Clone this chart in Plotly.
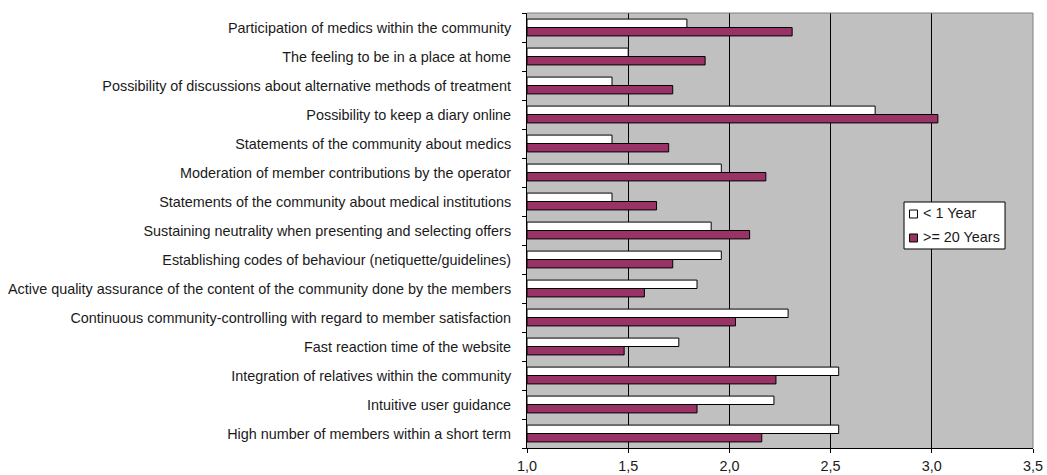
import plotly.graph_objects as go

categories = [
    "Participation of medics within the community",
    "The feeling to be in a place at home",
    "Possibility of discussions about alternative methods of treatment",
    "Possibility to keep a diary online",
    "Statements of the community about medics",
    "Moderation of member contributions by the operator",
    "Statements of the community about medical institutions",
    "Sustaining neutrality when presenting and selecting offers",
    "Establishing codes of behaviour (netiquette/guidelines)",
    "Active quality assurance of the content of the community done by the members",
    "Continuous community-controlling with regard to member satisfaction",
    "Fast reaction time of the website",
    "Integration of relatives within the community",
    "Intuitive user guidance",
    "High number of members within a short term",
]

less_1_year = [1.79, 1.50, 1.42, 2.72, 1.42, 1.96, 1.42, 1.91, 1.96, 1.84, 2.29, 1.75, 2.54, 2.22, 2.54]
over_20_years = [2.31, 1.88, 1.72, 3.03, 1.70, 2.18, 1.64, 2.10, 1.72, 1.58, 2.03, 1.48, 2.23, 1.84, 2.16]

series_names = ["< 1 Year", ">= 20 Years"]
series_colors = ["white", "#993366"]

FONT = "Liberation Sans, Arial, sans-serif"
FS = 14.4

fig = go.Figure()
fig.add_trace(go.Bar(
    y=categories, x=[v - 1.0 for v in over_20_years], base=1.0,
    orientation="h", name=series_names[1], showlegend=False,
    marker=dict(color=series_colors[1], line=dict(color="black", width=1)),
))
fig.add_trace(go.Bar(
    y=categories, x=[v - 1.0 for v in less_1_year], base=1.0,
    orientation="h", name=series_names[0], showlegend=False,
    marker=dict(color=series_colors[0], line=dict(color="black", width=1)),
))

# Legend box (Excel-style), built from shapes and text in paper coordinates
shapes = [
    dict(type="line", xref="paper", yref="paper", x0=0, x1=1, y0=1, y1=1,
         line=dict(color="#808080", width=1), layer="above"),
    dict(type="line", xref="paper", yref="paper", x0=1, x1=1, y0=0, y1=1,
         line=dict(color="#808080", width=1), layer="above"),
    dict(type="rect", xref="paper", yref="paper", x0=0.7451, x1=0.9447, y0=0.4575, y1=0.5655,
         fillcolor="white", line=dict(color="black", width=1), layer="above"),
]
annotations = []
sq_y = [(0.5287, 0.5471), (0.4736, 0.4920)]
txt_y = [0.5402, 0.4851]
for i in range(2):
    shapes.append(dict(type="rect", xref="paper", yref="paper", x0=0.7559, x1=0.7717,
                       y0=sq_y[i][0], y1=sq_y[i][1], fillcolor=series_colors[i],
                       line=dict(color="black", width=1), layer="above"))
    annotations.append(dict(xref="paper", yref="paper", x=0.7777, y=txt_y[i],
                            xanchor="left", yanchor="middle", text=series_names[i],
                            showarrow=False, font=dict(family=FONT, size=FS, color="#1a1a1a")))

fig.update_layout(
    width=1047, height=475,
    margin=dict(l=527, r=14, t=13, b=27),
    paper_bgcolor="white",
    plot_bgcolor="#C0C0C0",
    barmode="group",
    bargap=0.42,
    bargroupgap=0,
    separators=",.",
    font=dict(family=FONT, size=FS, color="#1a1a1a"),
    showlegend=False,
    xaxis=dict(
        range=[1.0, 3.5], dtick=0.5, tick0=1.0, tickformat=".1f",
        showgrid=True, gridcolor="black", gridwidth=1,
        showline=True, linecolor="black", linewidth=1,
        ticks="outside", ticklen=4, tickcolor="black",
        ticklabelstandoff=1,
        zeroline=False, fixedrange=True, automargin=False,
    ),
    yaxis=dict(
        categoryorder="array", categoryarray=list(reversed(categories)),
        showgrid=False,
        showline=True, linecolor="black", linewidth=1,
        ticks="outside", ticklen=4, tickcolor="black",
        tickson="boundaries",
        ticklabelstandoff=12,
        fixedrange=True, automargin=False,
    ),
    shapes=shapes,
    annotations=annotations,
)

fig.write_html("out.html")
